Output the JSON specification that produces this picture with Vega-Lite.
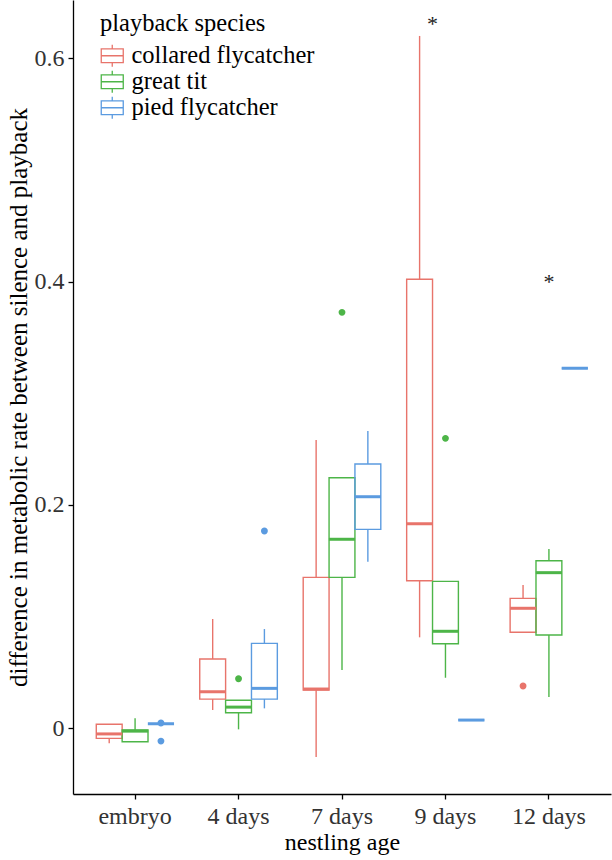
{
  "$schema": "https://vega.github.io/schema/vega-lite/v6.json",
  "width": 538,
  "height": 794,
  "autosize": "none",
  "padding": {"left": 73, "top": 0, "right": 1, "bottom": 66},
  "background": "white",
  "config": {
    "view": {"stroke": null},
    "font": "Liberation Serif",
    "axis": {
      "grid": false,
      "domainColor": "black",
      "domainWidth": 1.3,
      "tickColor": "black",
      "tickWidth": 1.3,
      "tickSize": 5,
      "labelFont": "Liberation Serif",
      "labelFontSize": 24,
      "labelColor": "#333333",
      "titleFont": "Liberation Serif",
      "titleFontSize": 24,
      "titleFontWeight": "normal",
      "titleColor": "black"
    },
    "legend": {"symbolFillColor": "white", "symbolBaseFillColor": "white"}
  },
  "datasets": {
    "boxes": [
      {"age": "embryo", "species": "collared flycatcher", "lw": -0.0134, "q1": -0.0090, "med": -0.0050, "q3": 0.0036, "uw": 0.0036},
      {"age": "embryo", "species": "great tit", "lw": -0.0120, "q1": -0.0120, "med": -0.0025, "q3": -0.0015, "uw": 0.0090},
      {"age": "embryo", "species": "pied flycatcher", "lw": 0.0041, "q1": 0.0041, "med": 0.0041, "q3": 0.0041, "uw": 0.0041},
      {"age": "4 days", "species": "collared flycatcher", "lw": 0.0164, "q1": 0.0262, "med": 0.0328, "q3": 0.0621, "uw": 0.0979},
      {"age": "4 days", "species": "great tit", "lw": -0.0009, "q1": 0.0140, "med": 0.0190, "q3": 0.0251, "uw": 0.0251},
      {"age": "4 days", "species": "pied flycatcher", "lw": 0.0179, "q1": 0.0262, "med": 0.0358, "q3": 0.0761, "uw": 0.0889},
      {"age": "7 days", "species": "collared flycatcher", "lw": -0.0257, "q1": 0.0343, "med": 0.0352, "q3": 0.1352, "uw": 0.2582},
      {"age": "7 days", "species": "great tit", "lw": 0.0522, "q1": 0.1352, "med": 0.1693, "q3": 0.2244, "uw": 0.2244},
      {"age": "7 days", "species": "pied flycatcher", "lw": 0.1492, "q1": 0.1782, "med": 0.2074, "q3": 0.2367, "uw": 0.2662},
      {"age": "9 days", "species": "collared flycatcher", "lw": 0.0815, "q1": 0.1322, "med": 0.1832, "q3": 0.4021, "uw": 0.6200},
      {"age": "9 days", "species": "great tit", "lw": 0.0453, "q1": 0.0758, "med": 0.0869, "q3": 0.1316, "uw": 0.1316},
      {"age": "9 days", "species": "pied flycatcher", "lw": 0.0074, "q1": 0.0074, "med": 0.0074, "q3": 0.0074, "uw": 0.0074},
      {"age": "12 days", "species": "collared flycatcher", "lw": 0.0860, "q1": 0.0860, "med": 0.1075, "q3": 0.1164, "uw": 0.1283},
      {"age": "12 days", "species": "great tit", "lw": 0.0280, "q1": 0.0836, "med": 0.1394, "q3": 0.1501, "uw": 0.1606},
      {"age": "12 days", "species": "pied flycatcher", "lw": 0.3224, "q1": 0.3224, "med": 0.3224, "q3": 0.3224, "uw": 0.3224}
    ],
    "outliers": [
      {"age": "embryo", "species": "pied flycatcher", "value": 0.0048},
      {"age": "embryo", "species": "pied flycatcher", "value": -0.0114},
      {"age": "4 days", "species": "great tit", "value": 0.0444},
      {"age": "4 days", "species": "pied flycatcher", "value": 0.1767},
      {"age": "7 days", "species": "great tit", "value": 0.3725},
      {"age": "9 days", "species": "great tit", "value": 0.2597},
      {"age": "12 days", "species": "collared flycatcher", "value": 0.0379}
    ],
    "stars": [
      {"age": "9 days", "value": 0.6325, "label": "*"},
      {"age": "12 days", "value": 0.4015, "label": "*"}
    ]
  },
  "layer": [
    {
      "data": {"name": "boxes"},
      "mark": {"type": "bar", "fill": "transparent", "strokeWidth": 1.4},
      "encoding": {
        "x": {
          "field": "age", "type": "nominal",
          "scale": {"domain": ["embryo", "4 days", "7 days", "9 days", "12 days"], "paddingInner": 0, "paddingOuter": 0.1},
          "axis": {"labelAngle": 0, "labelPadding": 5, "titlePadding": 2},
          "title": "nestling age"
        },
        "xOffset": {"field": "species", "type": "nominal", "scale": {"paddingInner": 0, "paddingOuter": 0.5}},
        "y": {
          "field": "q1", "type": "quantitative",
          "scale": {"domain": [-0.0588, 0.6522], "nice": false, "zero": false},
          "axis": {"values": [0, 0.2, 0.4, 0.6], "format": "~g", "labelPadding": 4, "titlePadding": 3, "titleFontSize": 25},
          "title": "difference in metabolic rate between silence and playback"
        },
        "y2": {"field": "q3"},
        "stroke": {
          "field": "species", "type": "nominal",
          "scale": {"domain": ["collared flycatcher", "great tit", "pied flycatcher"], "range": ["#E8746B", "#4DB548", "#5B9BE0"]},
          "legend": {
            "title": "playback species",
            "orient": "none",
            "legendX": 27,
            "legendY": 12,
            "titleFont": "Liberation Serif",
            "titleFontSize": 24.5,
            "titleFontWeight": "normal",
            "titleColor": "black",
            "labelFont": "Liberation Serif",
            "labelFontSize": 24.5,
            "labelColor": "black",
            "labelLimit": 400,
            "symbolType": "M-1,-0.62H1V0.62H-1Z M-1,0H1 M0,-0.62V-1 M0,0.62V1",
            "symbolSize": 484,
            "symbolStrokeWidth": 1.3,
            "symbolFillColor": "white",
            "labelOffset": 7,
            "rowPadding": -5,
            "titlePadding": 7,
            "padding": 0
          }
        }
      }
    },
    {
      "data": {"name": "boxes"},
      "mark": {"type": "rule", "strokeWidth": 1.4},
      "encoding": {
        "x": {"field": "age", "type": "nominal"},
        "xOffset": {"field": "species", "type": "nominal"},
        "y": {"field": "lw", "type": "quantitative"},
        "y2": {"field": "q1"},
        "stroke": {"field": "species", "type": "nominal"}
      }
    },
    {
      "data": {"name": "boxes"},
      "mark": {"type": "rule", "strokeWidth": 1.4},
      "encoding": {
        "x": {"field": "age", "type": "nominal"},
        "xOffset": {"field": "species", "type": "nominal"},
        "y": {"field": "q3", "type": "quantitative"},
        "y2": {"field": "uw"},
        "stroke": {"field": "species", "type": "nominal"}
      }
    },
    {
      "data": {"name": "boxes"},
      "mark": {"type": "tick", "filled": false, "thickness": 1.1, "strokeWidth": 1.9, "size": 24.3, "orient": "horizontal", "opacity": 1},
      "encoding": {
        "x": {"field": "age", "type": "nominal"},
        "xOffset": {"field": "species", "type": "nominal"},
        "y": {"field": "med", "type": "quantitative"},
        "stroke": {"field": "species", "type": "nominal"}
      }
    },
    {
      "data": {"name": "outliers"},
      "mark": {"type": "point", "filled": false, "size": 12, "strokeWidth": 3.4, "opacity": 1},
      "encoding": {
        "x": {"field": "age", "type": "nominal"},
        "xOffset": {"field": "species", "type": "nominal"},
        "y": {"field": "value", "type": "quantitative"},
        "stroke": {"field": "species", "type": "nominal"}
      }
    },
    {
      "data": {"name": "stars"},
      "transform": [{"filter": "datum.age === '9 days'"}],
      "mark": {"type": "text", "fontSize": 22, "dx": -13, "dy": 2, "baseline": "middle", "color": "#222222"},
      "encoding": {
        "x": {"field": "age", "type": "nominal"},
        "y": {"field": "value", "type": "quantitative"},
        "text": {"field": "label"}
      }
    },
    {
      "data": {"name": "stars"},
      "transform": [{"filter": "datum.age === '12 days'"}],
      "mark": {"type": "text", "fontSize": 22, "dy": 2, "baseline": "middle", "color": "#222222"},
      "encoding": {
        "x": {"field": "age", "type": "nominal"},
        "y": {"field": "value", "type": "quantitative"},
        "text": {"field": "label"}
      }
    }
  ]
}
